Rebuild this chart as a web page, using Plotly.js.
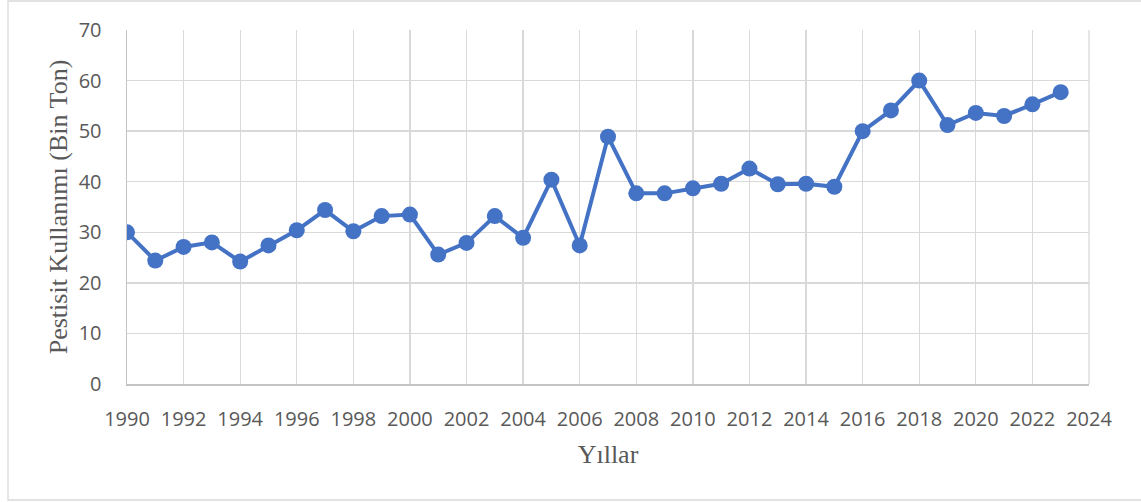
<!DOCTYPE html>
<html>
<head>
<meta charset="utf-8">
<script src="https://cdn.plot.ly/plotly-3.0.1.min.js"></script>
<style>
html,body{margin:0;padding:0;background:#fff;}
#chart{width:1141px;height:502px;}
</style>
</head>
<body>
<div id="chart"></div>
<script>
const years = [1990,1991,1992,1993,1994,1995,1996,1997,1998,1999,2000,2001,2002,2003,2004,2005,2006,2007,2008,2009,2010,2011,2012,2013,2014,2015,2016,2017,2018,2019,2020,2021,2022,2023];
const pesticideUse = [30.0,24.4,27.1,28.0,24.2,27.4,30.4,34.4,30.2,33.2,33.5,25.6,27.9,33.2,28.9,40.4,27.4,48.9,37.7,37.7,38.7,39.6,42.6,39.5,39.6,39.0,50.0,54.1,60.0,51.2,53.6,53.0,55.3,57.7];
const xTitle = "Yıllar";
const yTitle = "Pestisit Kullanımı (Bin Ton)";

const L = 127, R = 52, T = 30, B = 118;
const W = 1141, H = 502;
const pw = W - L - R, ph = H - T - B;

const trace = {
  x: years, y: pesticideUse, type: 'scatter', mode: 'lines+markers',
  line: {color: '#4472C4', width: 4},
  marker: {color: '#4472C4', size: 16},
  hoverinfo: 'x+y'
};

const tickFont = {family: '"Open Sans", sans-serif', size: 20, color: '#595959'};
const titleFont = {family: '"Liberation Serif", "Times New Roman", serif', size: 26, color: '#595959'};

const layout = {
  width: W, height: H,
  margin: {l: L, r: R, t: T, b: B},
  paper_bgcolor: '#ffffff', plot_bgcolor: '#ffffff',
  showlegend: false,
  xaxis: {
    range: [1990, 2024], tick0: 1990, dtick: 2, tickmode: 'linear',
    showgrid: true, gridcolor: '#d9d9d9', gridwidth: 1.3,
    showline: true, linecolor: '#c4c4c4', linewidth: 1.5,
    zeroline: false, ticks: '', ticklen: 0,
    tickfont: tickFont, tickangle: 0, ticklabelstandoff: 16,
    title: {text: xTitle, font: titleFont, standoff: 14}
  },
  yaxis: {
    range: [0, 70], dtick: 10, tick0: 0, tickmode: 'linear',
    showgrid: true, gridcolor: '#d9d9d9', gridwidth: 1.3,
    showline: true, linecolor: '#c4c4c4', linewidth: 1.5,
    zeroline: false, ticks: '', ticklen: 0,
    tickfont: tickFont, ticklabelstandoff: 20,
    title: {text: yTitle, font: titleFont, standoff: 3}
  },
  shapes: [
    {type: 'line', xref: 'paper', yref: 'paper', x0: 1, x1: 1, y0: 0, y1: 1,
     line: {color: '#d9d9d9', width: 1.3}},
    {type: 'rect', xref: 'paper', yref: 'paper',
     x0: (8 - L) / pw, x1: (1200 - L) / pw,
     y0: ((T + ph) - 500) / ph,
     y1: ((T + ph) - 1) / ph,
     line: {color: '#d9d9d9', width: 1.3}, fillcolor: 'rgba(0,0,0,0)', layer: 'below'}
  ]
};

Plotly.newPlot('chart', [trace], layout, {displayModeBar: false, staticPlot: true});
</script>
</body>
</html>
